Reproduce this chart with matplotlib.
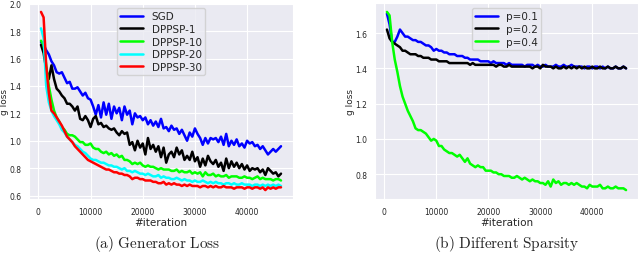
import matplotlib
matplotlib.use("Agg")
import matplotlib.pyplot as plt
import numpy as np
import seaborn as sns

# iterations (every 500 steps)
iters = np.arange(500, 47000, 500)

sgd = [1.72, 1.70, 1.66, 1.63, 1.58, 1.55, 1.50, 1.49, 1.50, 1.46,
       1.42, 1.43, 1.38, 1.38, 1.39, 1.36, 1.33, 1.35, 1.31, 1.30,
       1.25, 1.19, 1.26, 1.17, 1.28, 1.19, 1.27, 1.16, 1.25, 1.20,
       1.24, 1.15, 1.25, 1.19, 1.22, 1.12, 1.20, 1.17, 1.18, 1.15,
       1.17, 1.12, 1.15, 1.11, 1.14, 1.10, 1.16, 1.09, 1.10, 1.07,
       1.11, 1.08, 1.09, 1.05, 1.08, 1.04, 1.00, 1.06, 1.03, 1.09,
       1.05, 1.02, 0.97, 1.02, 0.98, 1.02, 1.01, 1.02, 0.99, 1.03,
       0.97, 1.05, 0.96, 1.00, 0.97, 1.01, 0.96, 0.98, 0.95, 1.00,
       0.98, 0.99, 0.96, 0.97, 0.94, 0.96, 0.93, 0.90, 0.92, 0.94,
       0.92, 0.94, 0.96]
dppsp1 = [1.70, 1.64, 1.52, 1.45, 1.55, 1.45, 1.38, 1.36, 1.33, 1.31,
          1.27, 1.27, 1.25, 1.22, 1.25, 1.16, 1.15, 1.18, 1.15, 1.10,
          1.16, 1.18, 1.12, 1.13, 1.10, 1.11, 1.09, 1.08, 1.09, 1.06,
          1.04, 1.07, 1.05, 1.06, 0.97, 0.99, 0.93, 1.00, 0.95, 0.98,
          0.90, 1.02, 0.94, 0.97, 0.92, 0.96, 0.88, 0.95, 0.84, 0.90,
          0.92, 0.88, 0.95, 0.90, 0.93, 0.86, 0.89, 0.86, 0.92, 0.85,
          0.88, 0.81, 0.87, 0.82, 0.89, 0.85, 0.83, 0.86, 0.81, 0.84,
          0.78, 0.87, 0.80, 0.85, 0.81, 0.84, 0.80, 0.83, 0.79, 0.82,
          0.78, 0.80, 0.79, 0.80, 0.77, 0.79, 0.75, 0.80, 0.78, 0.76,
          0.77, 0.74, 0.76]
dppsp10 = [1.73, 1.70, 1.55, 1.40, 1.30, 1.22, 1.17, 1.14, 1.10, 1.08,
           1.05, 1.04, 1.04, 1.03, 1.01, 0.99, 0.99, 0.97, 0.97, 0.98,
           0.95, 0.94, 0.94, 0.92, 0.91, 0.92, 0.90, 0.91, 0.89, 0.90,
           0.88, 0.89, 0.86, 0.86, 0.85, 0.83, 0.84, 0.83, 0.84, 0.82,
           0.81, 0.82, 0.81, 0.81, 0.80, 0.79, 0.80, 0.79, 0.79, 0.79,
           0.78, 0.78, 0.79, 0.77, 0.78, 0.77, 0.77, 0.78, 0.76, 0.77,
           0.76, 0.77, 0.74, 0.77, 0.75, 0.75, 0.76, 0.74, 0.75, 0.74,
           0.74, 0.75, 0.73, 0.74, 0.74, 0.74, 0.73, 0.73, 0.74, 0.73,
           0.73, 0.72, 0.73, 0.74, 0.72, 0.73, 0.72, 0.72, 0.72, 0.71,
           0.72, 0.72, 0.71]
dppsp20 = [1.82, 1.75, 1.40, 1.28, 1.22, 1.18, 1.15, 1.12, 1.08, 1.06,
           1.03, 1.01, 0.99, 0.97, 0.96, 0.94, 0.92, 0.91, 0.89, 0.87,
           0.86, 0.86, 0.85, 0.84, 0.84, 0.83, 0.82, 0.82, 0.81, 0.81,
           0.80, 0.79, 0.80, 0.78, 0.78, 0.77, 0.78, 0.77, 0.76, 0.76,
           0.75, 0.76, 0.75, 0.74, 0.74, 0.75, 0.73, 0.74, 0.73, 0.73,
           0.72, 0.72, 0.73, 0.72, 0.71, 0.72, 0.71, 0.71, 0.70, 0.71,
           0.70, 0.70, 0.71, 0.70, 0.69, 0.70, 0.69, 0.70, 0.69, 0.69,
           0.68, 0.69, 0.69, 0.68, 0.69, 0.68, 0.68, 0.69, 0.68, 0.68,
           0.68, 0.67, 0.68, 0.68, 0.67, 0.68, 0.67, 0.68, 0.67, 0.68,
           0.67, 0.68, 0.67]
dppsp30 = [1.94, 1.90, 1.55, 1.35, 1.22, 1.20, 1.17, 1.14, 1.11, 1.07,
           1.03, 1.01, 0.99, 0.96, 0.94, 0.92, 0.90, 0.88, 0.86, 0.85,
           0.84, 0.83, 0.82, 0.81, 0.80, 0.79, 0.79, 0.78, 0.77, 0.77,
           0.76, 0.76, 0.75, 0.75, 0.74, 0.72, 0.73, 0.73, 0.72, 0.72,
           0.71, 0.71, 0.71, 0.70, 0.70, 0.69, 0.69, 0.70, 0.68, 0.69,
           0.68, 0.69, 0.68, 0.68, 0.67, 0.68, 0.67, 0.68, 0.67, 0.67,
           0.67, 0.66, 0.67, 0.67, 0.66, 0.67, 0.66, 0.67, 0.66, 0.66,
           0.67, 0.66, 0.66, 0.66, 0.65, 0.66, 0.66, 0.66, 0.65, 0.66,
           0.66, 0.65, 0.66, 0.66, 0.65, 0.66, 0.64, 0.66, 0.65, 0.66,
           0.65, 0.66, 0.66]

p01 = [1.71, 1.65, 1.55, 1.55, 1.58, 1.62, 1.60, 1.58, 1.58, 1.57,
       1.56, 1.56, 1.55, 1.55, 1.54, 1.53, 1.53, 1.52, 1.50, 1.51,
       1.50, 1.50, 1.49, 1.49, 1.48, 1.48, 1.48, 1.47, 1.47, 1.47,
       1.46, 1.46, 1.45, 1.45, 1.45, 1.45, 1.44, 1.44, 1.44, 1.44,
       1.43, 1.44, 1.43, 1.43, 1.43, 1.43, 1.42, 1.43, 1.42, 1.42,
       1.42, 1.42, 1.42, 1.41, 1.42, 1.42, 1.42, 1.41, 1.42, 1.41,
       1.41, 1.42, 1.41, 1.41, 1.41, 1.42, 1.41, 1.41, 1.42, 1.41,
       1.41, 1.42, 1.41, 1.41, 1.41, 1.41, 1.40, 1.41, 1.41, 1.40,
       1.41, 1.41, 1.40, 1.41, 1.40, 1.41, 1.40, 1.40, 1.41, 1.40,
       1.40, 1.41, 1.40]
p02 = [1.62, 1.57, 1.55, 1.54, 1.53, 1.52, 1.50, 1.50, 1.49, 1.48,
       1.48, 1.48, 1.47, 1.47, 1.46, 1.46, 1.46, 1.45, 1.45, 1.45,
       1.44, 1.44, 1.44, 1.44, 1.43, 1.43, 1.43, 1.43, 1.43, 1.43,
       1.43, 1.43, 1.42, 1.43, 1.42, 1.42, 1.42, 1.42, 1.42, 1.42,
       1.42, 1.42, 1.41, 1.42, 1.42, 1.41, 1.41, 1.42, 1.41, 1.41,
       1.41, 1.41, 1.41, 1.41, 1.41, 1.41, 1.40, 1.41, 1.41, 1.40,
       1.42, 1.41, 1.41, 1.41, 1.40, 1.41, 1.40, 1.40, 1.41, 1.40,
       1.41, 1.40, 1.41, 1.40, 1.41, 1.40, 1.41, 1.40, 1.40, 1.41,
       1.40, 1.40, 1.41, 1.40, 1.40, 1.41, 1.40, 1.40, 1.41, 1.40,
       1.40, 1.41, 1.40]
p04 = [1.72, 1.70, 1.55, 1.45, 1.38, 1.30, 1.24, 1.20, 1.16, 1.13,
       1.10, 1.06, 1.05, 1.05, 1.04, 1.03, 1.01, 0.99, 1.00, 0.99,
       0.96, 0.96, 0.94, 0.93, 0.92, 0.92, 0.91, 0.90, 0.91, 0.89,
       0.87, 0.89, 0.86, 0.85, 0.84, 0.85, 0.84, 0.84, 0.82, 0.82,
       0.82, 0.81, 0.81, 0.80, 0.80, 0.79, 0.79, 0.79, 0.78, 0.78,
       0.79, 0.78, 0.77, 0.78, 0.77, 0.76, 0.77, 0.76, 0.76, 0.75,
       0.75, 0.74, 0.76, 0.73, 0.77, 0.75, 0.76, 0.74, 0.75, 0.75,
       0.74, 0.75, 0.74, 0.75, 0.74, 0.73, 0.73, 0.72, 0.74, 0.73,
       0.73, 0.73, 0.74, 0.72, 0.72, 0.73, 0.72, 0.72, 0.73, 0.72,
       0.72, 0.72, 0.71]

sns.set_style("darkgrid")
plt.rcParams['font.family'] = ['DejaVu Sans']
plt.rcParams['mathtext.fontset'] = 'cm'

fig = plt.figure(figsize=(6.4, 2.55), dpi=100)
ax1 = fig.add_axes([29/640, 55/255, 264/640, 196/255])
ax2 = fig.add_axes([375/640, 55/255, 263/640, 196/255])

lw = 1.8
ax1.plot(iters, sgd, color='blue', lw=lw, label='SGD')
ax1.plot(iters, dppsp1, color='black', lw=lw, label='DPPSP-1')
ax1.plot(iters, dppsp10, color='lime', lw=lw, label='DPPSP-10')
ax1.plot(iters, dppsp20, color='cyan', lw=lw, label='DPPSP-20')
ax1.plot(iters, dppsp30, color='red', lw=lw, label='DPPSP-30')
ax1.set_yticks([0.6, 0.8, 1.0, 1.2, 1.4, 1.6, 1.8, 2.0])

ax2.plot(iters, p01, color='blue', lw=lw, label='p=0.1')
ax2.plot(iters, p02, color='black', lw=lw, label='p=0.2')
ax2.plot(iters, p04, color='lime', lw=lw, label='p=0.4')
ax2.set_yticks([0.8, 1.0, 1.2, 1.4, 1.6])

for ax in (ax1, ax2):
    ax.set_xticks([0, 10000, 20000, 30000, 40000])
    ax.tick_params(labelsize=5.5, pad=2)
    ax.set_xlabel('#iteration', fontsize=7.5, labelpad=1)
    ax.set_ylabel('g loss', fontsize=6.5, va='center')
    ax.legend(loc='upper center', fontsize=7.5, handlelength=2.2,
              borderpad=0.3, labelspacing=0.25, handletextpad=0.8)

ax1.yaxis.set_label_coords(-0.092, 0.5)
ax2.yaxis.set_label_coords(-0.095, 0.5)

fig.text(0.245, 0.004, r'$\mathrm{(a)\ Generator\ Loss}$', ha='center', va='bottom', fontsize=11)
fig.text(0.792, 0.004, r'$\mathrm{(b)\ Different\ Sparsity}$', ha='center', va='bottom', fontsize=11)

fig.savefig('out.png', dpi=100)
